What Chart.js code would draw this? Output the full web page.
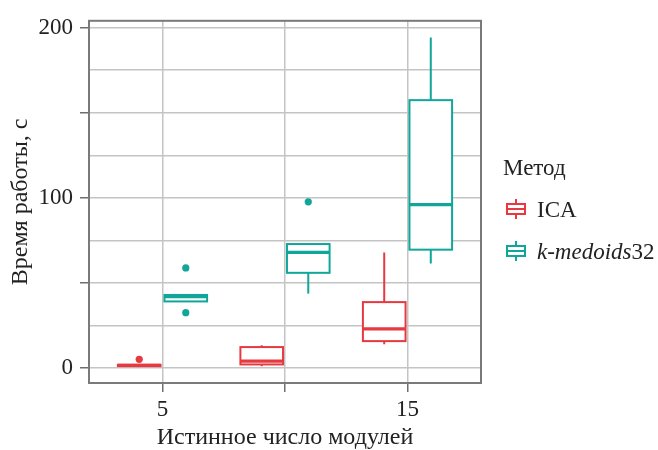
<!DOCTYPE html>
<html lang="ru">
<head>
  <meta charset="UTF-8" />
  <title>Время работы</title>
  <script src="https://cdn.jsdelivr.net/npm/chart.js"></script>
  <style>
    body {
      margin: 0;
      background: #fff;
      font-family: "Liberation Serif", serif;
    }
    #wrap {
      position: relative;
      width: 658px;
      height: 450px;
    }
    #legend {
      position: absolute;
      left: 503px;
      top: 156px;
      color: #222;
      font-size: 23px;
      line-height: 23px;
    }
    .item {
      position: relative;
      height: 23px;
      margin-top: 19px;
      padding-left: 34px;
      white-space: nowrap;
    }
    .icon {
      position: absolute;
      left: 3px;
      top: 1px;
      width: 20px;
      height: 20px;
    }
    .icon .wh {
      position: absolute;
      left: 9px;
      top: 0;
      width: 2px;
      height: 20px;
    }
    .icon .bx {
      position: absolute;
      left: 0;
      top: 4px;
      width: 16px;
      height: 8px;
      border: 2px solid;
      background: #fff;
    }
    .icon .md {
      position: absolute;
      left: 0;
      top: 9px;
      width: 20px;
      height: 2px;
    }
  </style>
</head>
<body>
<div id="wrap">
  <canvas id="chart" width="658" height="450"></canvas>
  <div id="legend"></div>
</div>

<script>
  // группы по оси x (истинное число модулей)
  const groups = [5, 10, 15];
  const methods = ['ICA', 'k-medoids32'];
  const colors = ['#e63a40', '#10a79a'];

  // ICA
  const icaMin = [1.2, 1.2, 14.0];
  const icaQ1 = [1.2, 2.2, 15.9];
  const icaMed = [1.6, 4.1, 23.1];
  const icaQ3 = [2.0, 12.4, 38.8];
  const icaMax = [2.0, 13.4, 68.0];
  const icaOut = [[5.2], [], []];

  // k-medoids32
  const kmMin = [39.2, 43.8, 61.5];
  const kmQ1 = [39.2, 56.0, 69.6];
  const kmMed = [42.0, 68.0, 96.1];
  const kmQ3 = [43.0, 72.9, 157.4];
  const kmMax = [43.0, 72.9, 194.2];
  const kmOut = [[58.9, 32.6], [97.7], []];

  const yTickLabels = [0, 100, 200];
  const xTickLabels = [5, 15];

  const stats = [
    { min: icaMin, q1: icaQ1, med: icaMed, q3: icaQ3, max: icaMax, out: icaOut },
    { min: kmMin, q1: kmQ1, med: kmMed, q3: kmQ3, max: kmMax, out: kmOut }
  ];

  const dodge = [-0.95, 0.95];
  const halfW = 0.87;

  const datasets = stats.map((s, m) => ({
    label: methods[m],
    data: s.out.flatMap((vals, i) => vals.map(v => ({ x: groups[i] + dodge[m], y: v }))),
    backgroundColor: colors[m],
    borderWidth: 0,
    pointRadius: 3.6
  }));

  const boxPlugin = {
    id: 'boxes',
    beforeDatasetsDraw(chart) {
      const ctx = chart.ctx;
      const xs = chart.scales.x, ys = chart.scales.y;
      stats.forEach((s, m) => {
        groups.forEach((g, i) => {
          const cx = xs.getPixelForValue(g + dodge[m]);
          const x0 = xs.getPixelForValue(g + dodge[m] - halfW);
          const x1 = xs.getPixelForValue(g + dodge[m] + halfW);
          const yq1 = ys.getPixelForValue(s.q1[i]);
          const yq3 = ys.getPixelForValue(s.q3[i]);
          ctx.save();
          ctx.strokeStyle = colors[m];
          ctx.lineWidth = 2;
          // усы
          ctx.beginPath();
          ctx.moveTo(cx, ys.getPixelForValue(s.max[i]));
          ctx.lineTo(cx, yq3);
          ctx.moveTo(cx, yq1);
          ctx.lineTo(cx, ys.getPixelForValue(s.min[i]));
          ctx.stroke();
          // ящик
          ctx.fillStyle = '#fff';
          ctx.fillRect(x0, yq3, x1 - x0, yq1 - yq3);
          ctx.strokeRect(x0, yq3, x1 - x0, yq1 - yq3);
          // медиана
          ctx.lineWidth = 3.2;
          ctx.beginPath();
          const ym = ys.getPixelForValue(s.med[i]);
          ctx.moveTo(x0, ym);
          ctx.lineTo(x1, ym);
          ctx.stroke();
          ctx.restore();
        });
      });
    },
    afterDraw(chart) {
      const ctx = chart.ctx, a = chart.chartArea;
      ctx.save();
      ctx.strokeStyle = '#7a7a7a';
      ctx.lineWidth = 2;
      ctx.strokeRect(a.left, a.top, a.right - a.left, a.bottom - a.top);
      ctx.restore();
    }
  };

  const font = { family: '"Liberation Serif", serif', size: 23 };
  const titleFont = { family: '"Liberation Serif", serif', size: 24 };

  new Chart(document.getElementById('chart'), {
    type: 'scatter',
    data: { datasets },
    options: {
      responsive: false,
      animation: false,
      layout: { padding: { top: 17, right: 177, left: 0, bottom: 0 } },
      plugins: {
        legend: { display: false },
        tooltip: { enabled: false }
      },
      scales: {
        x: {
          type: 'linear',
          min: 2,
          max: 18,
          afterBuildTicks: s => { s.ticks = groups.map(v => ({ value: v })); },
          afterFit: s => { s.height = 67; },
          border: { display: false },
          grid: {
            color: '#c4c4c4',
            lineWidth: 1.5,
            tickLength: 9,
            tickColor: '#6e6e6e',
            tickWidth: 1.5
          },
          ticks: {
            color: '#222',
            font,
            padding: 4,
            maxRotation: 0,
            autoSkip: false,
            callback: v => xTickLabels.includes(v) ? String(v) : ''
          },
          title: {
            display: true,
            text: 'Истинное число модулей',
            color: '#222',
            font: titleFont,
            padding: { top: 0, bottom: -2 }
          }
        },
        y: {
          min: -8.7,
          max: 204,
          afterBuildTicks: s => {
            s.ticks = [0, 25, 50, 75, 100, 125, 150, 175, 200].map(v => ({ value: v }));
          },
          afterFit: s => { s.width = 89; },
          border: { display: false },
          grid: {
            color: '#c4c4c4',
            lineWidth: 1.5,
            tickLength: 9,
            tickColor: c => (c.tick && c.tick.value % 50 === 0) ? '#6e6e6e' : 'rgba(0,0,0,0)',
            tickWidth: 1.5
          },
          ticks: {
            color: '#222',
            font,
            padding: 7,
            autoSkip: false,
            callback: v => yTickLabels.includes(v) ? String(v) : ''
          },
          title: {
            display: true,
            text: 'Время работы, с',
            color: '#222',
            font: titleFont,
            padding: { top: 6, bottom: 0 }
          }
        }
      }
    },
    plugins: [boxPlugin]
  });

  // легенда
  const legend = document.getElementById('legend');
  legend.innerHTML = '<div>Метод</div>' + methods.map((name, m) => {
    const label = name === 'k-medoids32' ? '<i>k-medoids</i>32' : name;
    const c = colors[m];
    return '<div class="item"><span class="icon">' +
      '<span class="wh" style="background:' + c + '"></span>' +
      '<span class="bx" style="border-color:' + c + '"></span>' +
      '<span class="md" style="background:' + c + '"></span>' +
      '</span>' + label + '</div>';
  }).join('');
</script>
</body>
</html>
